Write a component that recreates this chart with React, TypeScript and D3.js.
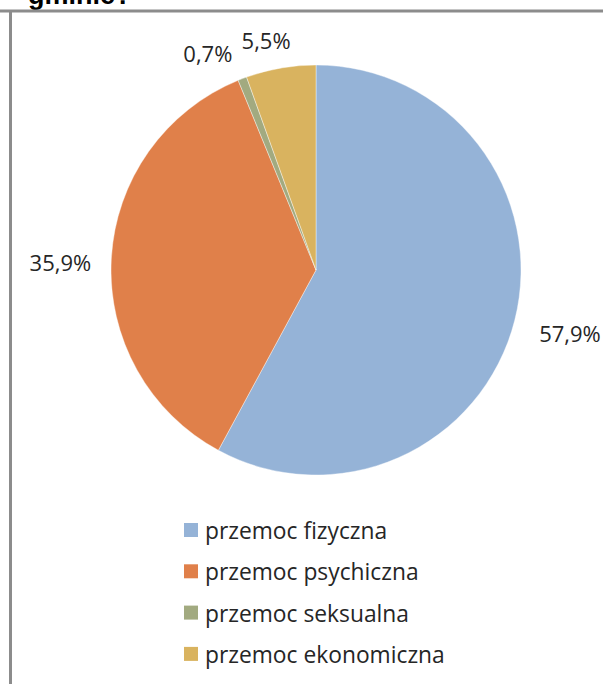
import React from "react";
import * as d3 from "d3";

const categories = ["przemoc fizyczna", "przemoc psychiczna", "przemoc seksualna", "przemoc ekonomiczna"];
const values = [57.9, 35.9, 0.7, 5.5];
const valueLabels = ["57,9%", "35,9%", "0,7%", "5,5%"];
const colors = ["#95B3D7", "#E0804A", "#A2AA80", "#D9B35F"];
const titleText = "gminie?";

const W = 603;
const H = 684;
const cx = 316;
const cy = 270;
const R = 205;
// label placement (layout only)
const labelR = [262, 256, 231.5, 232];
const labelDx = [0, 0, -25, -10];
const labelDy = [0, 7, 0, 0];

export default function App() {
  const pie = d3.pie<number>().sort(null).value((d) => d)(values);
  const arc = d3.arc<d3.PieArcDatum<number>>().innerRadius(0).outerRadius(R);
  const font = "'Open Sans', Calibri, sans-serif";
  const fs = 22;
  return (
    <svg width={W} height={H} style={{ position: "absolute", left: 0, top: 0, background: "#fff" }}>
      <text x={28} y={4} fontFamily="Arial, 'Liberation Sans', sans-serif" fontWeight="bold" fontSize={27} fill="#000">
        {titleText}
      </text>
      <line x1={0} x2={W} y1={11} y2={11} stroke="#8C8C8C" strokeWidth={3} />
      <line x1={10.5} x2={10.5} y1={10} y2={H} stroke="#8C8C8C" strokeWidth={3} />
      <g transform={`translate(${cx},${cy})`}>
        {pie.map((p, i) => (
          <path key={i} d={arc(p) || ""} fill={colors[i]} stroke="#fff" strokeWidth={0.4} />
        ))}
        {pie.map((p, i) => {
          const a = (p.startAngle + p.endAngle) / 2;
          const x = Math.sin(a) * labelR[i] + labelDx[i];
          const y = -Math.cos(a) * labelR[i] + labelDy[i];
          return (
            <text key={i} x={x} y={y + fs * 0.357} textAnchor="middle" fontFamily={font} fontSize={fs} fill="#262626">
              {valueLabels[i]}
            </text>
          );
        })}
      </g>
      {categories.map((c, i) => (
        <g key={c} transform={`translate(184,${531 + i * 41.3})`}>
          <rect x={0} y={-8} width={14} height={14} fill={colors[i]} />
          <text x={21} y={8} fontFamily={font} fontSize={22.8} fill="#262626">
            {c}
          </text>
        </g>
      ))}
    </svg>
  );
}
